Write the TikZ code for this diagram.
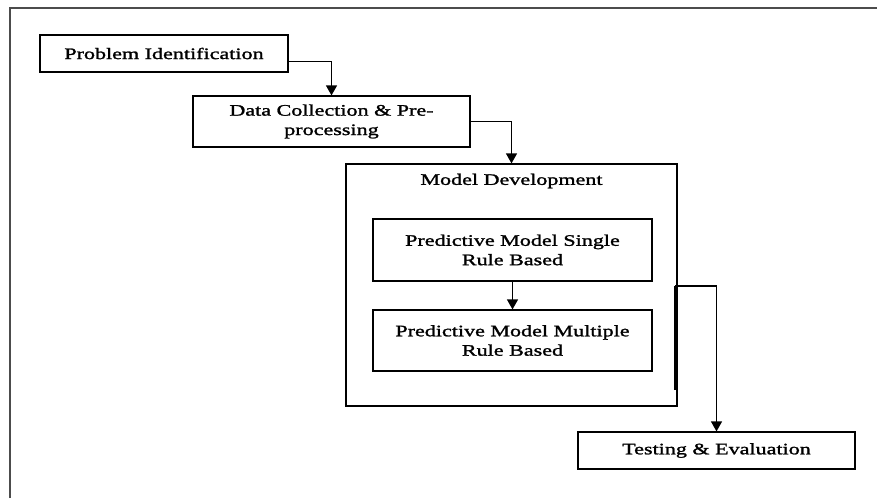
\documentclass[tikz,border=0pt]{standalone}
\usepackage{fontspec}
\setmainfont{Liberation Serif}[FakeStretch=1.38,FakeBold=1.5]
\usetikzlibrary{arrows.meta}
\begin{document}
\begin{tikzpicture}[x=1pt,y=-1pt,
        caja/.style={draw,line width=1.2pt,inner sep=0pt,align=center,font=\fontsize{16}{19.4}\selectfont},
        texto/.style={inner sep=0pt,font=\fontsize{16}{19.4}\selectfont},
        flecha/.style={line width=1.2pt,-{Triangle[length=10pt,width=11pt]}}]
        \useasboundingbox (0,0) rectangle (877,498);
        \draw[line width=1.8pt,black!70] (10,498) -- (10,8) -- (877,8); % marco
        % cajas
        \node[caja,minimum width=248pt,minimum height=37pt] (pi) at (164,53.5) {Problem Identification};
        \node[caja,minimum width=277pt,minimum height=51pt] (dc) at (331.5,121.5) {Data Collection \& Pre-\\processing};
        \node[caja,minimum width=331pt,minimum height=242pt] (md) at (511.5,285) {};
        \node[texto] (mdt) at (511.5,181) {Model Development};
        \node[caja,minimum width=279pt,minimum height=62pt] (sr) at (512.5,250) {Predictive Model Single\\Rule Based};
        \node[caja,minimum width=279pt,minimum height=61pt] (mr) at (512.5,340.5) {Predictive Model Multiple\\Rule Based};
        \node[caja,minimum width=277pt,minimum height=37pt] (te) at (716.5,450.5) {Testing \& Evaluation};
        % flechas
        \draw[flecha] ([yshift=-8pt]pi.east) -| (dc.north);
        \draw[flecha] (dc.east) -| (md.north);
        \draw[flecha] (sr.south) -- (mr.north);
        \coordinate (c1) at (675,390);
        \coordinate (c2) at (675,286);
        \draw[line width=2pt] (c1) -- (c2);
        \draw[flecha] (c2) -| (te.north);
\end{tikzpicture}
\end{document}
